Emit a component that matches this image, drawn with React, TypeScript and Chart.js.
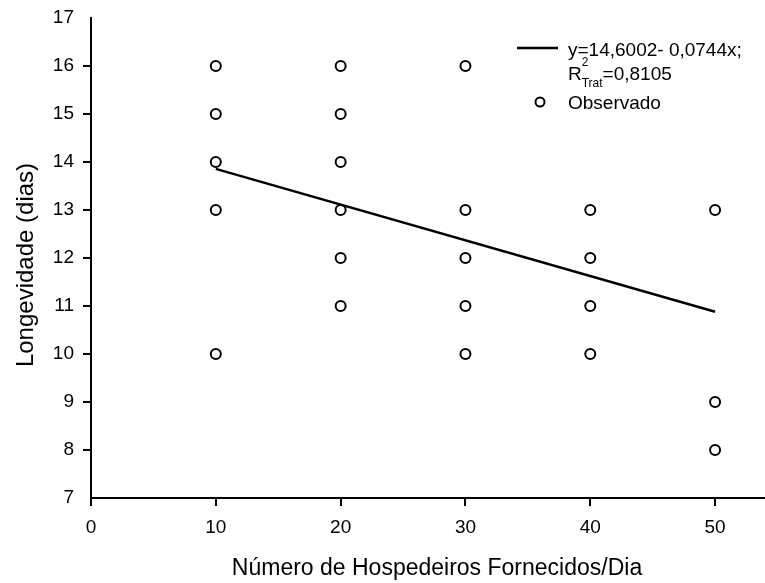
import React, { useEffect, useRef } from "react";
import { Chart, registerables } from "chart.js";

Chart.register(...registerables);

// Observações: número de hospedeiros fornecidos por dia × longevidade (dias)
const obsX = [10, 10, 10, 10, 10, 20, 20, 20, 20, 20, 20, 30, 30, 30, 30, 30, 40, 40, 40, 40, 50, 50, 50];
const obsY = [16, 15, 14, 13, 10, 16, 15, 14, 13, 12, 11, 16, 13, 12, 11, 10, 13, 12, 11, 10, 13, 9, 8];

// Regressão ajustada: y = 14,6002 - 0,0744x
const intercept = 14.6002;
const slope = -0.0744;
const fitRange = [10, 50];

const xTicks = [0, 10, 20, 30, 40, 50];
const yTicks = [7, 8, 9, 10, 11, 12, 13, 14, 15, 16, 17];

const FONT = "'Liberation Sans', Arial, Helvetica, sans-serif";

const annotations = {
  id: "annotations",
  afterDraw(chart: Chart) {
    const ctx = chart.ctx;
    ctx.save();
    ctx.fillStyle = "#000";
    ctx.strokeStyle = "#000";

    // axis titles
    ctx.textAlign = "center";
    ctx.textBaseline = "alphabetic";
    ctx.font = `23px ${FONT}`;
    ctx.fillText("Número de Hospedeiros Fornecidos/Dia", 437, 575);

    ctx.save();
    ctx.font = `24px ${FONT}`;
    ctx.translate(33, 265);
    ctx.rotate(-Math.PI / 2);
    ctx.fillText("Longevidade (dias)", 0, 0);
    ctx.restore();

    // legend
    ctx.lineWidth = 2.5;
    ctx.beginPath();
    ctx.moveTo(517, 48);
    ctx.lineTo(558, 48);
    ctx.stroke();

    ctx.textAlign = "left";
    ctx.font = `19px ${FONT}`;
    ctx.fillText("y=14,6002- 0,0744x;", 568, 56);

    let x = 568;
    ctx.fillText("R", x, 80);
    x += ctx.measureText("R").width;
    ctx.font = `12px ${FONT}`;
    ctx.fillText("2", x, 66);
    ctx.fillText("Trat", x, 87);
    x += ctx.measureText("Trat").width;
    ctx.font = `19px ${FONT}`;
    ctx.fillText("=0,8105", x, 80);

    ctx.fillText("Observado", 568, 109);
    ctx.lineWidth = 2;
    ctx.beginPath();
    ctx.arc(540, 102, 4.5, 0, Math.PI * 2);
    ctx.stroke();

    ctx.restore();
  },
};

export default function App() {
  const ref = useRef<HTMLCanvasElement | null>(null);

  useEffect(() => {
    document.body.style.margin = "0";
    const canvas = ref.current;
    if (!canvas) return;

    const points = obsX.map((x, i) => ({ x, y: obsY[i] }));
    const fit = fitRange.map((x) => ({ x, y: intercept + slope * x }));

    const chart = new Chart(canvas, {
      type: "scatter",
      data: {
        datasets: [
          {
            type: "line",
            label: "Ajuste",
            data: fit,
            borderColor: "#000",
            borderWidth: 2.5,
            pointRadius: 0,
            fill: false,
          },
          {
            label: "Observado",
            data: points,
            pointStyle: "circle",
            pointRadius: 5,
            pointBorderWidth: 2,
            pointBackgroundColor: "rgba(0,0,0,0)",
            pointBorderColor: "#000",
            borderColor: "#000",
            backgroundColor: "rgba(0,0,0,0)",
          },
        ],
      },
      options: {
        responsive: false,
        animation: false,
        layout: { autoPadding: false, padding: { top: 18, right: 0, left: 0, bottom: 0 } },
        plugins: {
          legend: { display: false },
          tooltip: { enabled: false },
          title: { display: false },
        },
        scales: {
          x: {
            type: "linear",
            min: 0,
            max: 54,
            afterBuildTicks: (s: any) => {
              s.ticks = xTicks.map((v) => ({ value: v }));
            },
            afterFit: (s: any) => {
              s.height = 85;
              s.paddingLeft = 0;
              s.paddingRight = 0;
            },
            border: { display: true, color: "#000", width: 2 },
            grid: {
              display: true,
              drawOnChartArea: false,
              drawTicks: true,
              tickLength: 8,
              color: "#000",
              lineWidth: 2,
            },
            ticks: {
              color: "#000",
              padding: 10,
              font: { family: FONT, size: 19 },
            },
          },
          y: {
            type: "linear",
            min: 7,
            max: 17,
            afterBuildTicks: (s: any) => {
              s.ticks = yTicks.map((v) => ({ value: v }));
            },
            afterFit: (s: any) => {
              s.width = 91;
              s.paddingTop = 0;
              s.paddingBottom = 0;
            },
            border: { display: true, color: "#000", width: 2 },
            grid: {
              display: true,
              drawOnChartArea: false,
              drawTicks: true,
              tickLength: 8,
              color: (c: any) =>
                c.tick && (c.tick.value === 7 || c.tick.value === 17) ? "rgba(0,0,0,0)" : "#000",
              lineWidth: 2,
            },
            ticks: {
              color: "#000",
              padding: 9,
              font: { family: FONT, size: 19 },
            },
          },
        },
      },
      plugins: [annotations],
    });

    return () => chart.destroy();
  }, []);

  return (
    <div style={{ width: 765, height: 583, background: "#fff" }}>
      <canvas ref={ref} width={765} height={583} style={{ display: "block" }} />
    </div>
  );
}
